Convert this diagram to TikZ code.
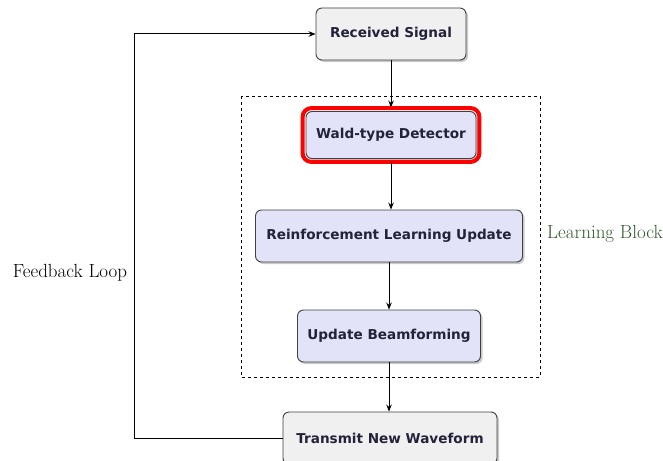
\documentclass[tikz,border=0pt]{standalone}
\usepackage{fontspec}
\newfontfamily\boxfont{DejaVu Sans}
\usetikzlibrary{arrows.meta,shadows}
\definecolor{textc}{HTML}{22223A}
\definecolor{lav}{HTML}{E2E2F8}
\definecolor{lgray}{HTML}{F0F0F0}
\definecolor{lbgreen}{HTML}{2E5A2E}
\begin{document}
\begin{tikzpicture}[x=1pt,y=-1pt,
  box/.style={draw=black!75, line width=0.9pt, rounded corners=6pt,
    font=\boxfont\bfseries\fontsize{13.6}{16}\selectfont, text=textc,
    minimum height=52pt, inner sep=2pt,
    drop shadow={shadow xshift=2pt, shadow yshift=-2pt, opacity=0.35, fill=black!60}},
  graybox/.style={box, fill=lgray},
  bluebox/.style={box, fill=lav},
  arr/.style={-{Stealth[length=7pt,width=5.5pt]}, line width=1pt, black},
  lbl/.style={font=\fontsize{19}{22}\selectfont, inner sep=0pt}
]
\useasboundingbox (0,0) rectangle (663,460);
\draw[dashed, line width=0.9pt] (241,96) rectangle (540,377);
\node[graybox, minimum width=150pt] (rs) at (391,34) {Received Signal};
\node[bluebox, minimum width=170pt, minimum height=47pt] (wd) at (391,135) {Wald-type Detector};
\node[bluebox, minimum width=267pt] (rl) at (389,236) {Reinforcement Learning Update};
\node[bluebox, minimum width=183pt] (ub) at (389,336) {Update Beamforming};
\node[graybox, minimum width=214pt] (tw) at (390,438) {Transmit New Waveform};
\coordinate (fb) at (134,438);
\draw[arr, shorten >=3.5pt] (rs.south) -- (rs.south |- wd.north);
\draw[red, line width=4pt, rounded corners=9pt]
  ([xshift=-3pt,yshift=-3pt]wd.south west) rectangle ([xshift=3pt,yshift=3pt]wd.north east);
\draw[arr] (wd.south |- wd.south) ++(0,3) -- (wd.south |- rl.north);
\draw[arr] (rl.south) -- (ub.north);
\draw[arr] (ub.south) -- (ub.south |- tw.north);
\draw[arr] (tw.west) -- (fb) |- (rs.west);
\node[lbl] (fl) at (70,273) {Feedback Loop};
\node[lbl, text=lbgreen, anchor=west] (lb) at (547,234) {Learning Block};
\end{tikzpicture}
\end{document}
